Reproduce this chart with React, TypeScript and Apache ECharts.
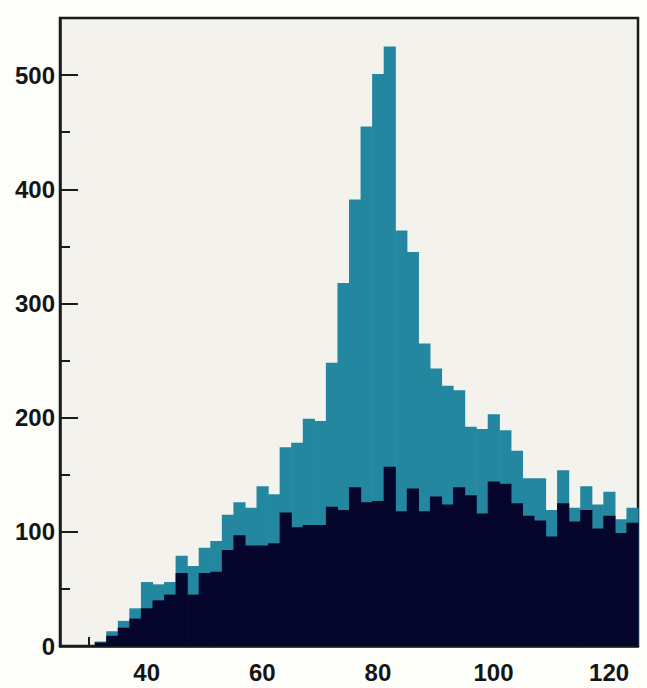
import React, { useEffect, useRef } from "react";
import * as echarts from "echarts";

// Histogram bin centres (bin width 2)
const binCenters = [
  26, 28, 30, 32, 34, 36, 38, 40, 42, 44, 46, 48, 50, 52, 54, 56, 58, 60, 62, 64,
  66, 68, 70, 72, 74, 76, 78, 80, 82, 84, 86, 88, 90, 92, 94, 96, 98, 100, 102, 104,
  106, 108, 110, 112, 114, 116, 118, 120, 122, 124,
];
const binWidth = 2;

// Total (teal) counts
const totalCounts = [
  0, 0, 0, 4, 13, 22, 33, 56, 54, 56, 79, 70, 86, 92, 115, 126, 121, 140, 133, 174,
  178, 199, 197, 248, 318, 391, 455, 501, 525, 364, 345, 265, 243, 228, 224, 192, 190, 203, 189, 171,
  147, 147, 119, 154, 121, 140, 124, 135, 111, 121,
];

// Background (dark) counts
const backgroundCounts = [
  0, 0, 0, 3, 9, 16, 24, 33, 40, 45, 64, 45, 64, 65, 84, 97, 88, 88, 90, 117,
  104, 106, 106, 122, 119, 139, 126, 127, 157, 118, 138, 118, 131, 124, 139, 132, 116, 144, 142, 125,
  114, 110, 96, 125, 109, 119, 103, 114, 99, 108,
];

const xLabels = [40, 60, 80, 100, 120];
const xTicks = [30, 40, 50, 60, 70, 80, 90, 100, 110, 120];

const TEAL = "#2387a0";
const DARK = "#06062c";

function histData(values: number[]) {
  return binCenters.map((c, i) => [c - binWidth / 2, c + binWidth / 2, values[i]]);
}

function makeRender(color: string) {
  return (params: any, api: any) => {
    const top = api.coord([api.value(0), api.value(2)]);
    const bot = api.coord([api.value(1), 0]);
    return {
      type: "rect",
      shape: {
        x: top[0],
        y: top[1],
        width: bot[0] - top[0] + 0.6,
        height: bot[1] - top[1],
      },
      style: { fill: color },
    };
  };
}

export default function App() {
  const ref = useRef<HTMLDivElement>(null);

  useEffect(() => {
    if (!ref.current) return;
    const chart = echarts.init(ref.current, null, { renderer: "svg" });
    const font = "'Liberation Sans', Arial, Helvetica, sans-serif";
    chart.setOption({
      animation: false,
      backgroundColor: "#fdfdf9",
      grid: {
        left: 60,
        right: 9,
        top: 18,
        bottom: 42,
        show: true,
        backgroundColor: "#f4f2ec",
        borderColor: "#1b1b1b",
        borderWidth: 2.5,
      },
      xAxis: {
        type: "value",
        min: 25,
        max: 125,
        splitLine: { show: false },
        axisLine: { show: true, onZero: false, lineStyle: { color: "#1b1b1b", width: 2.5 } },
        axisTick: {
          show: true,
          inside: true,
          length: 9,
          customValues: xTicks,
          lineStyle: { color: "#1b1b1b", width: 2 },
        },
        axisLabel: {
          customValues: xLabels,
          fontSize: 24,
          fontWeight: "bold",
          fontFamily: font,
          color: "#151515",
          margin: 14,
        },
      },
      yAxis: {
        type: "value",
        min: 0,
        max: 550,
        interval: 100,
        splitLine: { show: false },
        axisLine: { show: true, lineStyle: { color: "#1b1b1b", width: 2.5 } },
        axisTick: { show: true, inside: true, length: 18, lineStyle: { color: "#1b1b1b", width: 2 } },
        minorTick: { show: true, splitNumber: 2, length: 10, lineStyle: { color: "#1b1b1b", width: 2 } },
        axisLabel: {
          fontSize: 24,
          fontWeight: "bold",
          fontFamily: font,
          color: "#151515",
          margin: 5,
          showMaxLabel: false,
        },
      },
      series: [
        {
          type: "custom",
          name: "total",
          renderItem: makeRender(TEAL),
          data: histData(totalCounts),
          encode: { x: [0, 1], y: 2 },
          z: 2,
        },
        {
          type: "custom",
          name: "background",
          renderItem: makeRender(DARK),
          data: histData(backgroundCounts),
          encode: { x: [0, 1], y: 2 },
          z: 3,
        },
      ],
    });
    return () => chart.dispose();
  }, []);

  return (
    <div
      ref={ref}
      style={{ position: "fixed", left: 0, top: 0, width: 647, height: 688 }}
    />
  );
}
